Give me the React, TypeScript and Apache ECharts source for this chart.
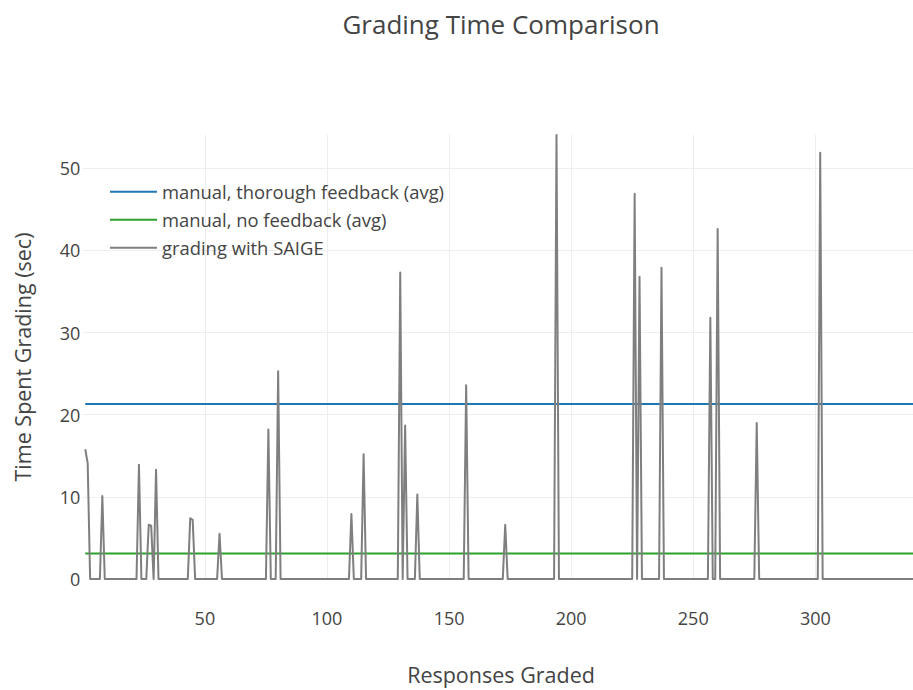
import React, { useEffect, useRef } from "react";
import * as echarts from "echarts";

const chartTitle = "Grading Time Comparison";
const xTitle = "Responses Graded";
const yTitle = "Time Spent Grading (sec)";
const seriesNames = [
  "manual, thorough feedback (avg)",
  "manual, no feedback (avg)",
  "grading with SAIGE",
];
const seriesColors = ["#1f77b4", "#2ca02c", "#7f7f7f"];

const thoroughAvg = 21.3;
const noFeedbackAvg = 3.1;
const firstResponse = 1;
const lastResponse = 340;

const saigeResponses = [
  1, 2, 3, 7, 8, 9, 22, 23, 24, 26, 27, 28, 29, 30, 31, 43, 44, 45, 46, 55, 56, 57,
  75, 76, 77, 79, 80, 81, 109, 110, 111, 114, 115, 116, 129, 130, 131, 132, 133,
  136, 137, 138, 156, 157, 158, 172, 173, 174, 193, 194, 195, 225, 226, 227, 228, 229,
  236, 237, 238, 256, 257, 258, 259, 260, 261, 275, 276, 277, 301, 302, 303, 340,
];
const saigeSeconds = [
  15.8, 14.1, 0, 0, 10.1, 0, 0, 13.9, 0, 0, 6.6, 6.5, 0, 13.3, 0, 0, 7.4, 7.2, 0, 0, 5.5, 0,
  0, 18.2, 0, 0, 25.3, 0, 0, 7.9, 0, 0, 15.2, 0, 0, 37.3, 0, 18.7, 0,
  0, 10.3, 0, 0, 23.6, 0, 0, 6.6, 0, 0, 54.05, 0, 0, 46.9, 0, 36.8, 0,
  0, 37.9, 0, 0, 31.8, 0, 0, 42.6, 0, 0, 19.0, 0, 0, 51.9, 0, 0,
];

const xTicks = [50, 100, 150, 200, 250, 300];
const yTicks = [0, 10, 20, 30, 40, 50];

const FONT = '"Open Sans", "DejaVu Sans", sans-serif';
const TEXT = "#444";

export default function App() {
  const ref = useRef<HTMLDivElement>(null);

  useEffect(() => {
    if (!ref.current) return;
    const chart = echarts.init(ref.current, undefined, { renderer: "svg" });
    const lineSeries = (i: number, data: number[][]) => ({
      name: seriesNames[i],
      type: "line",
      data,
      symbol: "none",
      showSymbol: false,
      silent: true,
      lineStyle: { color: seriesColors[i], width: 2, join: "round" },
      itemStyle: { color: seriesColors[i] },
      emphasis: { disabled: true },
    });
    chart.setOption({
      animation: false,
      backgroundColor: "#ffffff",
      textStyle: { fontFamily: FONT },
      grid: { left: 82.8, right: 0, top: 134.6, bottom: 111, containLabel: false },
      xAxis: {
        type: "value",
        min: 0,
        max: lastResponse,
        interval: 50,
        axisLine: { show: false },
        axisTick: { show: false },
        axisLabel: {
          color: TEXT,
          fontSize: 18,
          fontFamily: FONT,
          margin: 30,
          showMinLabel: false,
          showMaxLabel: false,
          formatter: (v: number) => (xTicks.includes(v) ? String(v) : ""),
        },
        splitLine: {
          show: true,
          showMinLine: false,
          showMaxLine: false,
          lineStyle: { color: "#eeeeee", width: 1 },
        },
      },
      yAxis: {
        type: "value",
        min: 0,
        max: 54.1,
        interval: 10,
        axisLine: { show: false },
        axisTick: { show: false },
        axisLabel: {
          color: TEXT,
          fontSize: 18,
          fontFamily: FONT,
          margin: 2.5,
          showMaxLabel: false,
          formatter: (v: number) => (yTicks.includes(v) ? String(v) : ""),
        },
        splitLine: {
          show: true,
          showMinLine: false,
          showMaxLine: false,
          lineStyle: { color: "#eeeeee", width: 1 },
        },
      },
      legend: {
        orient: "vertical",
        left: 110,
        top: 182.7,
        padding: 0,
        itemGap: 10,
        itemWidth: 47,
        itemHeight: 2,
        icon: "rect",
        selectedMode: false,
        textStyle: { color: TEXT, fontSize: 18.4, fontFamily: FONT },
        data: seriesNames,
      },
      graphic: [
        {
          type: "text",
          x: 501,
          y: 24,
          style: {
            text: chartTitle,
            fill: TEXT,
            font: `26px ${FONT}`,
            textAlign: "center",
            textVerticalAlign: "middle",
          },
        },
        {
          type: "text",
          x: 501,
          y: 674,
          style: {
            text: xTitle,
            fill: TEXT,
            font: `21.5px ${FONT}`,
            textAlign: "center",
            textVerticalAlign: "middle",
          },
        },
        {
          type: "text",
          x: 22,
          y: 357,
          rotation: Math.PI / 2,
          style: {
            text: yTitle,
            fill: TEXT,
            font: `21.5px ${FONT}`,
            textAlign: "center",
            textVerticalAlign: "middle",
          },
        },
      ],
      series: [
        lineSeries(0, [
          [firstResponse, thoroughAvg],
          [lastResponse, thoroughAvg],
        ]),
        lineSeries(1, [
          [firstResponse, noFeedbackAvg],
          [lastResponse, noFeedbackAvg],
        ]),
        lineSeries(
          2,
          saigeResponses.map((x, i) => [x, saigeSeconds[i]])
        ),
      ],
    });
    return () => chart.dispose();
  }, []);

  return (
    <div
      ref={ref}
      style={{ position: "fixed", left: 0, top: 0, width: 913, height: 690, background: "#fff" }}
    />
  );
}
